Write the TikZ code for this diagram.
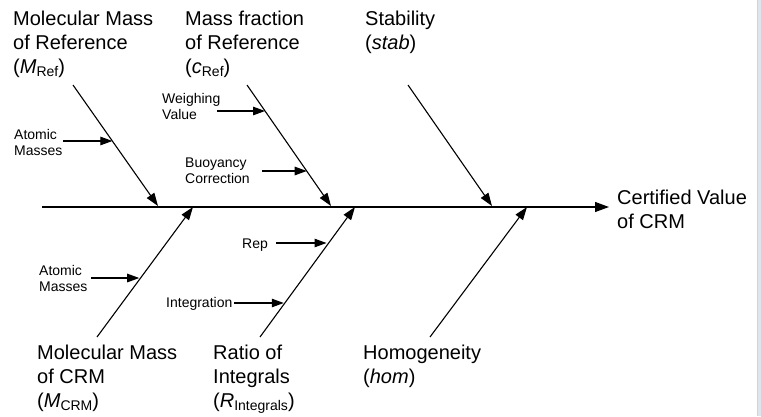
\documentclass[tikz,border=0pt]{standalone}
\usepackage{fontspec}
\setmainfont{Liberation Sans}
\usetikzlibrary{calc,arrows.meta}
\definecolor{stripfill}{RGB}{223,229,236}
\definecolor{stripedge}{RGB}{205,212,221}
\newcommand{\bigtxt}{\fontsize{20}{24}\selectfont}
\newcommand{\smalltxt}{\fontsize{14}{16}\selectfont}
\newcommand{\subtxt}[1]{\raisebox{-0.3ex}{\fontsize{14}{14}\selectfont #1}}
\begin{document}
\begin{tikzpicture}[x=1pt,y=-1pt,
  big/.style={anchor=base west,inner sep=0pt,align=left,font=\bigtxt},
  small/.style={anchor=base west,inner sep=0pt,align=left,font=\smalltxt},
  arr/.style={line width=1.1pt,-{Triangle[length=12pt,width=8.5pt]}},
  bone/.style={line width=1.1pt,-{Triangle[length=13pt,width=9pt]}},
  stem/.style={line width=1.1pt,-{Triangle[length=14pt,width=10pt]}}]
\useasboundingbox (0,0) rectangle (761,416);
\fill[white] (0,0) rectangle (761,416);
\fill[stripfill] (757,0) rectangle (761,416);
\draw[line width=0.4pt,stripedge] (757,0) -- (757,416);

% spine (node anchors: baseline of the last line)
\coordinate (sp0) at (42,207);
\node[big] (cv) at (617,228) {Certified Value\\of CRM};
\coordinate (sp1) at (609,207);
\draw[stem] (sp0) -- (sp1);

% top labels
\node[big] (mref) at (13,73) {Molecular Mass\\of Reference\\(\textit{M}\subtxt{Ref})};
\node[big] (cref) at (185,73) {Mass fraction\\of Reference\\(\textit{c}\subtxt{Ref})};
\node[big] (stab) at (365,49) {Stability\\(\textit{stab})};

% bottom labels
\node[big] (mcrm) at (37,407) {Molecular Mass\\of CRM\\(\textit{M}\subtxt{CRM})};
\node[big] (rint) at (213,407) {Ratio of\\Integrals\\(\textit{R}\subtxt{Integrals})};
\node[big] (hom) at (363,383) {Homogeneity\\(\textit{hom})};

% bones
\coordinate (b1s) at (73,85);  \coordinate (b1e) at (158,206);
\coordinate (b2s) at (247,85); \coordinate (b2e) at (331,206);
\coordinate (b3s) at (408,85); \coordinate (b3e) at (492,206);
\coordinate (b4s) at (97,337);  \coordinate (b4e) at (193,207);
\coordinate (b5s) at (260,337); \coordinate (b5e) at (355,207);
\coordinate (b6s) at (430,337); \coordinate (b6e) at (527,207);
\foreach \i in {1,...,6} {\draw[bone] (b\i s) -- (b\i e);}

% small causes (anchors: baseline of the last line)
\node[small] (am1) at (14,155) {Atomic\\Masses};
\node[small] (wv) at (162,119) {Weighing\\Value};
\node[small] (bc) at (185,183) {Buoyancy\\Correction};
\node[small] (rep) at (242,248) {Rep};
\node[small] (am2) at (39,291) {Atomic\\Masses};
\node[small] (intg) at (166,307) {Integration};

\coordinate (a1s) at (63,141);  \coordinate (a1e) at ($(b1s)!0.463!(b1e)$);
\coordinate (a2s) at (217,111); \coordinate (a2e) at ($(b2s)!0.215!(b2e)$);
\coordinate (a3s) at (262,171); \coordinate (a3e) at ($(b2s)!0.711!(b2e)$);
\coordinate (a4s) at (276,243); \coordinate (a4e) at ($(b5s)!0.70!(b5e)$);
\coordinate (a5s) at (91,278);  \coordinate (a5e) at ($(b4s)!0.44!(b4e)$);
\coordinate (a6s) at (234,303); \coordinate (a6e) at ($(b5s)!0.25!(b5e)$);
\draw[arr] (a1s) -- (a1e |- a1s);
\draw[arr] (a2s) -- (a2e |- a2s);
\draw[arr] (a3s) -- (a3e |- a3s);
\draw[arr] (a4s) -- (a4e |- a4s);
\draw[arr] (a5s) -- (a5e |- a5s);
\draw[arr] (a6s) -- (a6e |- a6s);
\end{tikzpicture}
\end{document}
